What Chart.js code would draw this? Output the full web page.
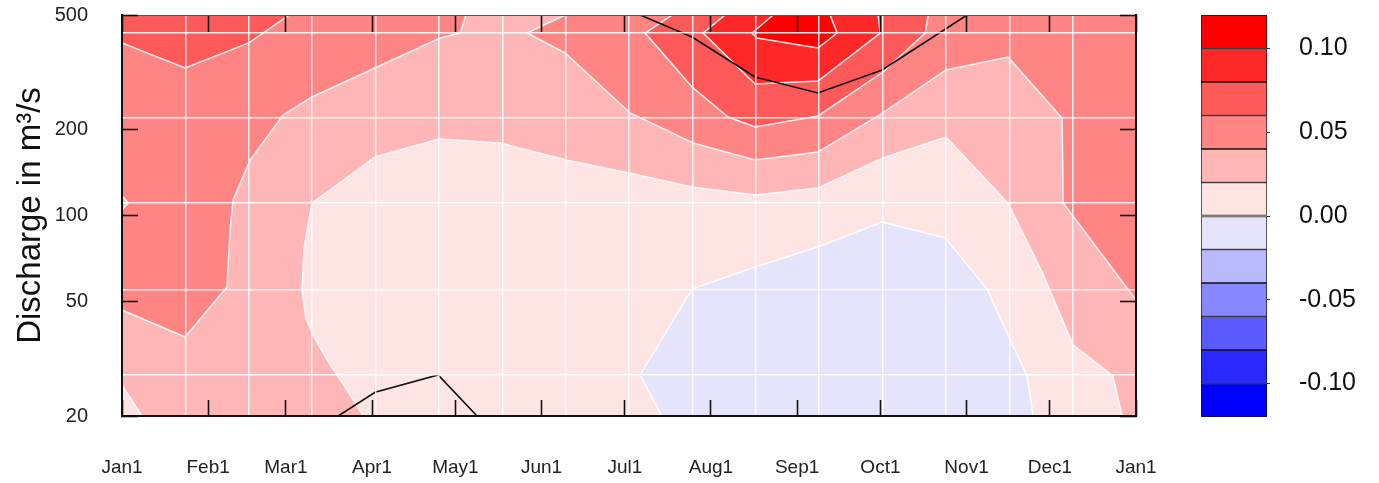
<!DOCTYPE html>
<html>
<head>
<meta charset="utf-8">
<script src="https://cdn.jsdelivr.net/npm/chart.js@4.4.1/dist/chart.umd.min.js"></script>
<style>
  body { margin: 0; background: #fff; }
  #main { position: absolute; left: 0; top: 0; width: 1190px; height: 483px; }
  #bar { position: absolute; left: 1190px; top: 0; width: 189px; height: 483px; }
</style>
</head>
<body>
<div id="main"><canvas id="contour" width="1190" height="483"></canvas></div>
<div id="bar"><canvas id="legend" width="189" height="483"></canvas></div>
<script>
// x = day of year, y = discharge (m3/s, log axis)
const monthLabels = ['Jan1', 'Feb1', 'Mar1', 'Apr1', 'May1', 'Jun1', 'Jul1', 'Aug1', 'Sep1', 'Oct1', 'Nov1', 'Dec1', 'Jan1'];
const monthDays = [0, 31, 59, 90, 120, 151, 181, 212, 243, 273, 304, 334, 365];
const dischargeTicks = [20, 50, 100, 200, 500];
const gridDays = [22.8, 45.6, 68.4, 91.3, 114.1, 136.9, 159.7, 182.5, 205.3, 228.1, 250.9, 273.8, 296.6, 319.4, 342.2];
const gridDischarge = [27.8, 55, 110.5, 218.7, 432.6];

const levels = [-0.12, -0.10, -0.08, -0.06, -0.04, -0.02, 0.00, 0.02, 0.04, 0.06, 0.08, 0.10, 0.12];
const levelColors = ['#0000FF', '#2828FF', '#5A5AFF', '#8787FF', '#B9B9FF', '#E4E4FA',
                     '#FFE4E4', '#FFB6B6', '#FF8585', '#FF5A5A', '#FF2828', '#FF0000'];

// contour regions as [day, discharge]; points past the frame just close the shapes
const fullArea = [[-5, 18], [370, 18], [370, 560], [-5, 560]];
const band000Blob = [[86.8, 18], [86.8, 20], [81.0, 24.6], [73.8, 31.4], [68.8, 38.3], [66.2, 43.9], [64.8, 55.0],
  [65.5, 75.8], [66.6, 89.0], [68.4, 110.5], [91.1, 159.9], [114.1, 184.8], [136.1, 179], [159.8, 156.1],
  [182.5, 140.7], [205.2, 125.7], [227.9, 117.9], [250.5, 124.7], [273.9, 158.6], [296.6, 187.8],
  [318.9, 110.5], [331.2, 63.5], [342.3, 35.4], [356.7, 27.6], [360.0, 20], [360.0, 18]];
const band000Corner = [[-5, 25.6], [0, 25.6], [7.2, 20], [7.2, 18], [-5, 18]];
const bandNeg020 = [[194.4, 18], [194.4, 20], [186.5, 27.8], [205.2, 55.4], [227.9, 66.1], [250.5, 77.7],
  [273.6, 94.9], [296.3, 83.5], [311.4, 55.4], [318.9, 38.3], [325.8, 27.6], [328.0, 20], [328.0, 18]];
const band040Left = [[123.8, 560], [123.8, 500], [121.7, 432.6], [114.5, 415.6], [91.8, 329.4], [68.4, 258.9],
  [58.0, 224.1], [46.1, 156.1], [40.0, 113.2], [38.9, 89.0], [37.8, 56.3], [22.7, 37.7], [0, 46.8],
  [-5, 46.8], [-5, 104.5], [0, 104.5], [2.2, 110.5], [0, 116.9], [-5, 116.9], [-5, 560]];
const band060Left = [[60.1, 560], [60.1, 500], [45.7, 399.5], [22.7, 326.7], [0, 399.5], [-5, 399.5], [-5, 560]];
const band040Right = [[159.5, 560], [159.5, 500], [145.8, 432.6], [159.5, 368.6], [182.9, 227.7], [205.6, 179.0],
  [227.9, 156.1], [250.5, 166.4], [273.9, 227.7], [296.6, 321.6], [318.9, 357], [338.4, 218.7],
  [338.8, 110.5], [365, 50.7], [370, 50.7], [370, 560]];
const band060Mid = [[198.0, 560], [198.0, 500], [188.3, 432.6], [205.2, 280.6], [218.2, 220.5], [227.9, 203.5],
  [250.5, 222.3], [273.9, 316.4], [289.1, 432.6], [290.2, 500], [290.2, 560]];
const band080Mid = [[217.1, 560], [217.1, 500], [209.2, 432.6], [227.9, 287.4], [250.5, 294.4],
  [272.9, 432.6], [272.2, 500], [272.2, 560]];
const band100Mid = [[234.4, 560], [234.4, 500], [226.8, 432.6], [228.6, 415.6], [250.5, 383.7],
  [257.4, 432.6], [254.9, 500], [254.9, 560]];

// black lines
const sigTop = [[186.5, 500], [205.2, 419], [227.9, 304], [250.5, 267.4], [273.6, 321.6], [304.2, 500]];
const sigBottom = [[77.8, 20], [91.1, 24.2], [113.8, 27.8], [127.8, 20]];

const fontFamily = "'Liberation Sans', Arial, sans-serif";

function toPoints(pairs) {
    return pairs.map(p => ({x: p[0], y: p[1]}));
}

// fixed axis box size, without the extra room chart.js keeps for edge labels
function fixSize(w, h) {
    return function(s) {
        if (w !== null) s.width = w;
        if (h !== null) s.height = h;
        s.paddingLeft = 0;
        s.paddingRight = 0;
        s.paddingTop = 0;
        s.paddingBottom = 0;
    };
}

// painted bottom to top, value is the colour index
const regions = [
    [fullArea, 7, false],
    [band000Blob, 6, true],
    [band000Corner, 6, true],
    [bandNeg020, 5, true],
    [band040Left, 8, true],
    [band060Left, 9, true],
    [band040Right, 8, true],
    [band060Mid, 9, true],
    [band080Mid, 10, true],
    [band100Mid, 11, true],
];

const datasets = regions.map(function(r, i) {
    return {
        data: toPoints(r[0]),
        showLine: true,
        fill: 'shape',
        backgroundColor: levelColors[r[1]],
        borderColor: r[2] ? 'rgba(255,255,255,0.9)' : 'rgba(0,0,0,0)',
        borderWidth: r[2] ? 1.5 : 0,
        pointRadius: 0,
        tension: 0,
        order: 100 - i,
    };
});

[sigTop, sigBottom].forEach(function(line) {
    datasets.push({
        data: toPoints(line),
        showLine: true,
        fill: false,
        borderColor: '#111',
        borderWidth: 1.6,
        pointRadius: 0,
        tension: 0,
        order: 0,
    });
});

new Chart(document.getElementById('contour'), {
    type: 'scatter',
    data: {datasets: datasets},
    options: {
        responsive: false,
        animation: false,
        events: [],
        layout: {padding: 0},
        plugins: {legend: {display: false}, tooltip: {enabled: false}},
        scales: {
            x: {
                type: 'linear', position: 'bottom', min: 0, max: 365,
                afterBuildTicks: s => { s.ticks = monthDays.map(v => ({value: v})); },
                afterFit: fixSize(null, 67),
                ticks: {
                    autoSkip: false, maxRotation: 0, padding: 56, color: '#222',
                    font: {family: fontFamily, size: 19},
                    callback: (v, i) => monthLabels[i],
                },
                grid: {drawOnChartArea: false, tickLength: -16, tickColor: '#111', tickWidth: 1.6, z: 2},
                border: {display: true, color: '#111', width: 2, z: 2},
            },
            xt: {
                type: 'linear', position: 'top', min: 0, max: 365,
                afterBuildTicks: s => { s.ticks = monthDays.map(v => ({value: v})); },
                afterFit: fixSize(null, 15),
                ticks: {display: false},
                grid: {drawOnChartArea: false, tickLength: -17, tickColor: '#111', tickWidth: 1.6, z: 2},
                border: {display: true, color: '#555', width: 1, z: 2},
            },
            xg: {
                type: 'linear', position: 'top', min: 0, max: 365,
                afterBuildTicks: s => { s.ticks = gridDays.map(v => ({value: v})); },
                afterFit: fixSize(null, 0),
                ticks: {display: false},
                grid: {drawTicks: false, color: 'rgba(255,255,255,0.85)', lineWidth: 1.5, z: 1},
                border: {display: false},
            },
            y: {
                type: 'logarithmic', position: 'left', min: 20, max: 500,
                afterBuildTicks: s => { s.ticks = dischargeTicks.map(v => ({value: v})); },
                afterFit: fixSize(122, null),
                ticks: {padding: 50, color: '#222', font: {family: fontFamily, size: 20}, callback: v => String(v)},
                grid: {drawOnChartArea: false, tickLength: -16, tickColor: '#111', tickWidth: 1.6, z: 2},
                border: {display: true, color: '#111', width: 2, z: 2},
                title: {
                    display: true, text: 'Discharge in m\u00b3/s', color: '#111',
                    font: {family: fontFamily, size: 33}, padding: {top: 11, bottom: 0},
                },
            },
            yr: {
                type: 'logarithmic', position: 'right', min: 20, max: 500,
                afterBuildTicks: s => { s.ticks = dischargeTicks.map(v => ({value: v})); },
                afterFit: fixSize(54, null),
                ticks: {display: false},
                grid: {drawOnChartArea: false, tickLength: -16, tickColor: '#111', tickWidth: 1.6, z: 2},
                border: {display: true, color: '#111', width: 2, z: 2},
            },
            yg: {
                type: 'logarithmic', position: 'left', min: 20, max: 500,
                afterBuildTicks: s => { s.ticks = gridDischarge.map(v => ({value: v})); },
                afterFit: fixSize(0, null),
                ticks: {display: false},
                grid: {drawTicks: false, color: 'rgba(255,255,255,0.85)', lineWidth: 1.5, z: 1},
                border: {display: false},
            },
        },
    },
});

// colour scale
const barSets = levelColors.map(function(c, i) {
    return {
        data: [[levels[i], levels[i + 1]]],
        backgroundColor: c,
        borderColor: '#111',
        borderWidth: 1,
        borderSkipped: false,
        grouped: false,
        barPercentage: 1,
        categoryPercentage: 1,
    };
});

new Chart(document.getElementById('legend'), {
    type: 'bar',
    data: {labels: [''], datasets: barSets},
    options: {
        responsive: false,
        animation: false,
        events: [],
        layout: {padding: {left: 11, top: 15, bottom: 66, right: 0}},
        plugins: {legend: {display: false}, tooltip: {enabled: false}},
        scales: {
            x: {display: false},
            y: {
                position: 'right', min: -0.12, max: 0.12,
                afterBuildTicks: s => { s.ticks = [-0.10, -0.05, 0, 0.05, 0.10].map(v => ({value: v})); },
                afterFit: fixSize(112, null),
                ticks: {padding: 29, color: '#111', font: {family: fontFamily, size: 25}, callback: v => v.toFixed(2)},
                grid: {drawOnChartArea: false, tickLength: 3, tickColor: '#333'},
                border: {display: false},
            },
        },
    },
});
</script>
</body>
</html>
